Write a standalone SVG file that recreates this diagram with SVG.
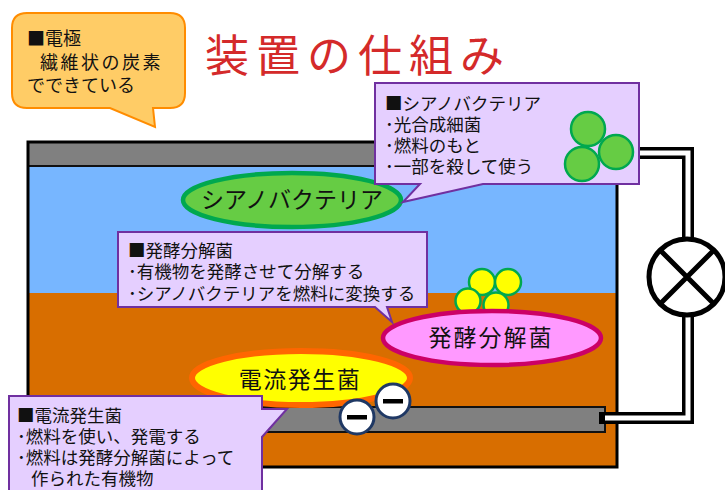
<svg xmlns="http://www.w3.org/2000/svg" width="725" height="490" viewBox="0 0 725 490">
  <defs>
    <style>
      text { font-family: "Noto Sans CJK JP", "Noto Sans", sans-serif; fill: #111; }
      .note { font-size: 17.5px; }
      .callout { fill: #E5CFFF; stroke: #7030A0; stroke-width: 2; stroke-linejoin: miter; }
      .electrode { fill: #808080; stroke: #111; stroke-width: 2; }
      .wire-out { fill: none; stroke: #000; stroke-width: 12; stroke-linejoin: miter; stroke-linecap: square; }
      .wire-in { fill: none; stroke: #fff; stroke-width: 5; stroke-linejoin: miter; stroke-linecap: butt; }
      .cyano { fill: #66CC44; stroke: #00A84F; stroke-width: 2.5; }
      .ferm { fill: #FFFF00; stroke: #00A84F; stroke-width: 2.5; }
      .minus { fill: #fff; stroke: #1F3864; stroke-width: 3; }
      .label { font-size: 23px; text-anchor: middle; }
    </style>
  </defs>

  <!-- tank contents -->
  <g id="tank">
    <rect x="28" y="166" width="589" height="127" fill="#77B6FF"/>
    <rect x="28" y="293" width="589" height="174" fill="#D86E00"/>
    <rect class="electrode" x="28" y="142" width="589" height="24"/>
    <rect class="electrode" x="40" y="407" width="565" height="25"/>
    <rect x="28" y="142" width="589" height="325" fill="none" stroke="#000" stroke-width="3"/>
  </g>

  <!-- external circuit -->
  <g id="connectors">
    <path class="wire-out" d="M617,153 H688 V240 M688,316 V418 H605"/>
    <path class="wire-in" d="M617,153 H688 V240 M688,316 V418 H605"/>
  </g>

  <g id="lamp">
    <circle cx="687" cy="277" r="38" fill="#fff" stroke="#000" stroke-width="5"/>
    <path d="M660,250 L714,304 M714,250 L660,304" stroke="#000" stroke-width="5"/>
  </g>

  <!-- bacteria -->
  <g id="cyanobacteria">
    <ellipse cx="292" cy="200" rx="109" ry="27" fill="#66CC44" stroke="#00A84F" stroke-width="4.5"/>
    <text class="label" x="292" y="208" font-size="22">シアノバクテリア</text>
  </g>

  <g id="fermenter-cells">
    <circle class="ferm" cx="482" cy="282" r="13"/>
    <circle class="ferm" cx="508" cy="282" r="13"/>
    <circle class="ferm" cx="468" cy="301" r="12.5"/>
    <circle class="ferm" cx="496" cy="305" r="12.5"/>
  </g>

  <g id="fermenter">
    <ellipse cx="492" cy="338" rx="109" ry="27" fill="#FF99FF" stroke="#CC0066" stroke-width="4.5"/>
    <text class="label" x="491" y="346" letter-spacing="2">発酵分解菌</text>
  </g>

  <g id="generator">
    <ellipse cx="301" cy="378" rx="109" ry="27" fill="#FFFF00" stroke="#FF6600" stroke-width="6"/>
    <text class="label" x="300" y="388" font-size="24" letter-spacing="1.5">電流発生菌</text>
  </g>

  <g id="electrons">
    <circle class="minus" cx="357" cy="417" r="17"/>
    <rect x="347" y="415" width="20" height="4.5" fill="#000"/>
    <circle class="minus" cx="393" cy="401" r="17"/>
    <rect x="383" y="399" width="20" height="4.5" fill="#000"/>
  </g>

  <!-- callouts -->
  <g id="note-cyanobacteria">
    <path class="callout" d="M375,83 H639 V184 H483 L403,202 L420,184 H375 Z"/>
    <text class="note" x="385" y="110">■シアノバクテリア</text>
    <text class="note" x="385" y="131">･光合成細菌</text>
    <text class="note" x="385" y="152">･燃料のもと</text>
    <text class="note" x="385" y="173">･一部を殺して使う</text>
    <circle class="cyano" cx="588" cy="129" r="17"/>
    <circle class="cyano" cx="616" cy="152" r="17"/>
    <circle class="cyano" cx="582" cy="164" r="17"/>
  </g>

  <g id="note-fermenter">
    <path class="callout" d="M118,232 H427 V307 H387 L392,322 L375,307 H118 Z"/>
    <text class="note" x="128" y="257">■発酵分解菌</text>
    <text class="note" x="128" y="278">･有機物を発酵させて分解する</text>
    <text class="note" x="128" y="300">･シアノバクテリアを燃料に変換する</text>
  </g>

  <g id="note-generator">
    <path class="callout" d="M9,396 H262 V409 H287 L262,437 V495 H9 Z"/>
    <text class="note" x="17" y="422">■電流発生菌</text>
    <text class="note" x="17" y="443">･燃料を使い、発電する</text>
    <text class="note" x="17" y="464">･燃料は発酵分解菌によって</text>
    <text class="note" x="31" y="485">作られた有機物</text>
  </g>

  <g id="note-electrode">
    <path d="M27,13 H170 Q185,13 185,28 V93 Q185,108 170,108 H153 L155,127 L110,108 H27 Q12,108 12,93 V28 Q12,13 27,13 Z" fill="#FFCC66" stroke="#FF8C00" stroke-width="2"/>
    <text x="27" y="45" font-size="18">■電極</text>
    <text x="40" y="69" font-size="18" letter-spacing="2.5">繊維状の炭素</text>
    <text x="27" y="92" font-size="18">でできている</text>
  </g>

  <g id="title">
    <text x="205" y="72" font-size="44" letter-spacing="7" style="fill:#D42A2A">装置の仕組み</text>
  </g>
</svg>
